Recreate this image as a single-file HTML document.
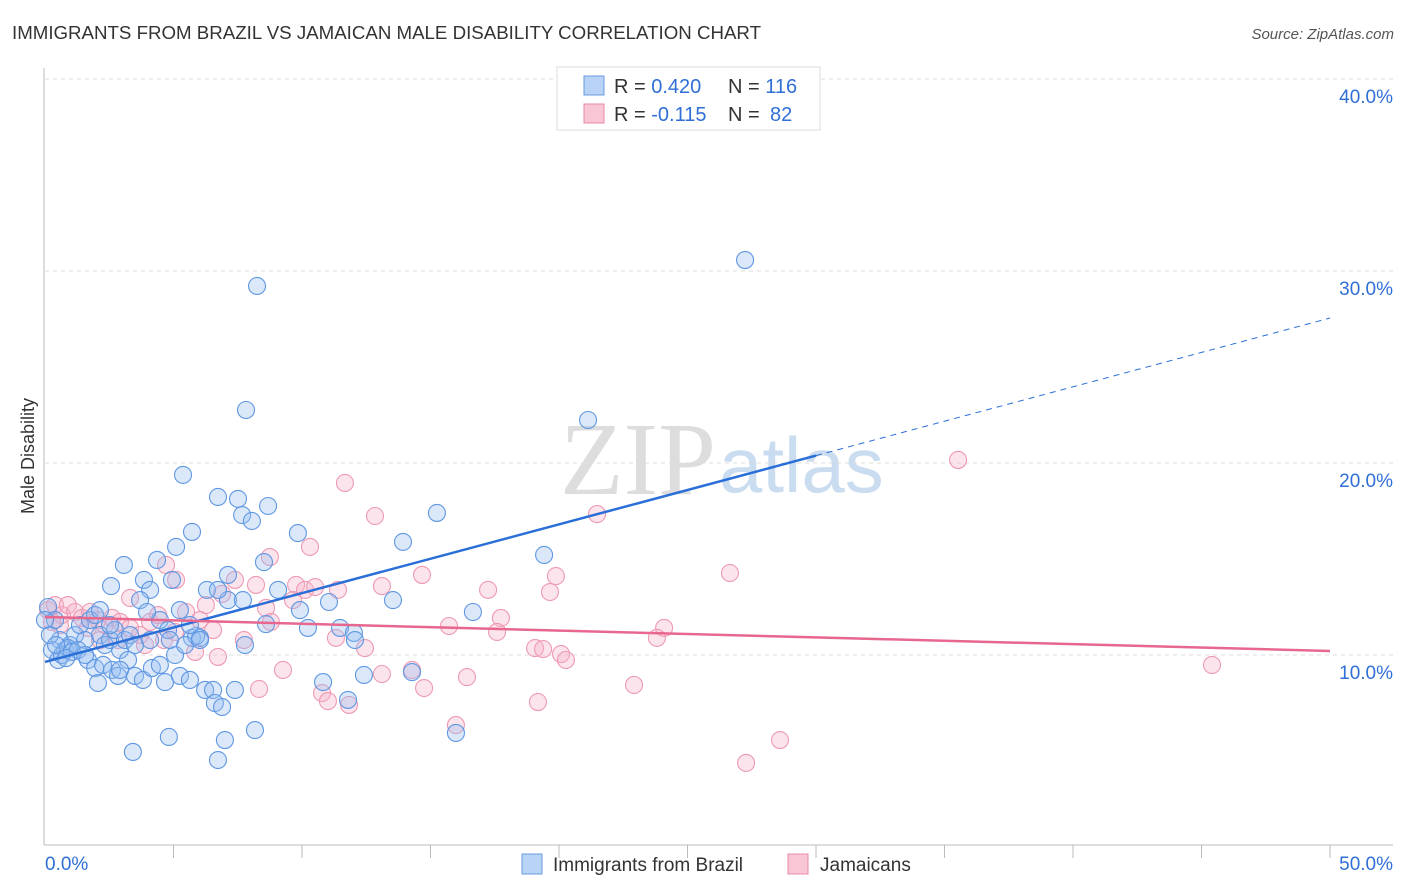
<!DOCTYPE html>
<html><head><meta charset="utf-8"><style>
body{margin:0;background:#fff;font-family:"Liberation Sans",sans-serif;}
#wrap{position:relative;width:1406px;height:892px;overflow:hidden}
</style></head><body>
<div id="wrap">
<svg id="svg" width="1406" height="892" xmlns="http://www.w3.org/2000/svg">
<text x="12" y="39" font-size="18.7" fill="#333">IMMIGRANTS FROM BRAZIL VS JAMAICAN MALE DISABILITY CORRELATION CHART</text>
<text x="1394" y="39" font-size="15" fill="#555" font-style="italic" text-anchor="end">Source: ZipAtlas.com</text>
<text x="716" y="494" font-size="104" fill="#ddd" font-family="Liberation Serif" text-anchor="end">ZIP</text>
<text x="719" y="492" font-size="78" fill="#c9dcf0">atlas</text>
<text transform="translate(34,456) rotate(-90)" font-size="18" fill="#333" text-anchor="middle">Male Disability</text>
<g id="grid"></g><g id="axes"></g><g id="pts"></g><g id="lines"></g>
<g>
<rect x="557" y="67" width="263" height="63" fill="#fff" stroke="#ddd"/>
<rect x="584" y="76" width="20" height="19" fill="#b8d3f5" stroke="#6a9be0"/>
<rect x="584" y="104" width="20" height="19" fill="#f9c6d5" stroke="#e88aa5"/>
<text x="614" y="93" font-size="20" fill="#333">R = <tspan fill="#2f6fd6">0.420</tspan><tspan x="728">N = </tspan><tspan fill="#2f6fd6">116</tspan></text>
<text x="614" y="121" font-size="20" fill="#333">R = <tspan fill="#2f6fd6">-0.115</tspan><tspan x="728">N = </tspan><tspan fill="#2f6fd6" x="770">82</tspan></text>
</g>
<g>
<rect x="522" y="854" width="20" height="20" fill="#b8d3f5" stroke="#6a9be0"/>
<text x="553" y="871" font-size="19" fill="#333">Immigrants from Brazil</text>
<rect x="788" y="854" width="20" height="20" fill="#f9c6d5" stroke="#e88aa5"/>
<text x="820" y="871" font-size="19" fill="#333">Jamaicans</text>
</g>
</svg></div>
<script>
const xTickLabels=["0.0%","50.0%"];
const yTicks=[10,20,30,40];
const yTickLabels=["10.0%","20.0%","30.0%","40.0%"];
const blueX=[27.24,8.25,7.82,21.13,5.37,6.73,7.51,8.68,7.67,8.05,15.25,9.84,5.72,13.93,4.36,19.42,3.07,5.10,8.52,2.57,3.85,4.94,6.30,7.12,9.07,9.92,13.54,16.65,11.05,11.48,12.02,8.60,10.23,5.72,6.03,7.78,4.09,3.70,4.47,5.25,0.12,0.39,0.58,0.78,0.97,1.17,1.36,1.56,1.75,1.95,2.14,2.33,2.53,2.72,2.92,3.11,3.31,3.50,0.27,0.51,0.66,0.89,1.05,1.28,1.67,1.95,2.26,2.61,2.84,3.23,3.50,3.81,4.16,4.47,4.67,5.06,5.25,5.64,6.23,6.54,6.61,6.89,7.39,8.17,7.00,6.73,4.82,3.42,2.06,10.82,11.79,12.41,14.28,15.99,7.12,6.73,5.88,5.45,4.79,4.09,0,0.19,0.43,0.82,1.56,2.92,2.14,3.97,6.03,7.70,12.06,2.53,4.86,5.64];
const blueY=[30.57,29.22,22.76,22.24,19.38,18.23,18.13,17.76,17.29,16.98,17.40,16.35,16.41,15.89,14.95,15.21,14.69,15.63,14.84,13.59,13.91,13.91,13.39,12.86,13.39,12.34,12.86,12.24,12.76,11.41,11.15,11.61,11.41,10.89,10.89,10.52,13.39,12.86,11.82,12.34,12.50,11.82,10.78,10.26,10.52,11.04,11.56,10.78,11.82,12.08,11.04,10.52,10.78,11.30,10.26,10.78,11.04,10.52,10.26,9.74,10.00,10.36,10.16,10.26,9.74,9.32,9.48,9.22,8.91,9.74,8.91,8.70,9.32,9.48,8.59,10.00,8.91,8.70,8.18,8.18,7.50,7.29,8.18,6.09,5.57,4.53,5.73,4.95,8.54,8.59,7.66,8.96,9.11,5.94,14.17,13.39,10.99,10.52,11.30,10.78,11.82,11.04,10.52,9.84,10.00,9.22,12.34,12.24,10.78,12.86,10.78,11.56,10.78,11.56];
const pinkX=[35.53,11.67,12.84,21.48,10.31,8.75,4.71,5.10,7.39,8.21,9.77,10.12,10.51,13.11,14.67,17.24,19.88,19.65,26.65,11.40,6.89,8.60,9.65,5.49,6.26,6.03,6.54,7.74,8.79,11.32,15.72,17.74,17.59,19.07,19.38,20.08,20.27,24.09,23.81,6.73,5.84,9.26,12.45,13.11,14.28,14.75,16.42,10.78,11.01,11.83,8.33,22.92,19.18,15.99,28.60,27.28,45.41,0.12,0.39,0.66,0.89,1.17,1.44,1.75,2.06,2.33,2.61,2.92,3.31,3.70,4.09,4.40,4.63,5.06,3.31,1.67,0.58,2.84,3.89,0.27,2.14];
const pinkY=[20.16,18.96,17.24,17.34,15.63,15.10,14.69,13.91,13.91,13.65,13.65,13.39,13.54,13.59,14.17,13.39,14.11,13.28,14.27,13.39,13.18,12.45,12.86,12.24,12.60,11.82,11.30,10.78,11.72,10.89,11.51,11.93,11.20,10.36,10.31,10.05,9.74,11.41,10.89,9.90,10.16,9.22,10.36,9.01,9.22,8.28,8.85,8.02,7.60,7.40,8.23,8.44,7.55,6.35,5.57,4.38,9.48,12.34,12.60,12.08,12.60,12.24,11.93,12.24,11.82,11.56,11.93,11.72,11.41,11.04,11.72,12.08,10.78,11.20,12.97,11.41,11.56,10.78,10.52,11.72,10.78];
const blueTrend=[9.64,27.55];
const blueSolidEnd=30;
const pinkTrend=[11.98,10.21];
const NS="http://www.w3.org/2000/svg";
const X=v=>45+v*25.7, Y=v=>847-v*19.2;
function mk(t,a,p){const e=document.createElementNS(NS,t);for(const k in a)e.setAttribute(k,a[k]);p.appendChild(e);return e;}
const grid=document.getElementById('grid'),axes=document.getElementById('axes'),pts=document.getElementById('pts'),lines=document.getElementById('lines');
yTicks.forEach((t,i)=>{
 const g=mk('line',{x1:45,x2:1393,y1:Y(t),y2:Y(t),stroke:'#ddd','stroke-dasharray':'4,4'},grid);
 
 
 const tx=mk('text',{x:1393,y:Y(t)+24,'font-size':19,fill:'#2f6fd6','text-anchor':'end'},axes);
 tx.textContent=yTickLabels[i];
 
 
});
const ax=mk('line',{x1:44,x2:44,y1:68,y2:845,stroke:'#bbb'},axes);


const bx=mk('line',{x1:44,x2:1393,y1:845,y2:845,stroke:'#bbb'},axes);


for(let i=1;i<=10;i++){const t=mk('line',{x1:X(i*5),x2:X(i*5),y1:845,y2:858,stroke:'#bbb'},axes);
 
 }
[[0,'start',45],[50,'end',1393]].forEach((d,i)=>{const t=mk('text',{x:d[2],y:870,'font-size':19,fill:'#2f6fd6','text-anchor':d[1]},axes);t.textContent=xTickLabels[i];
 
 });
function dots(xs,ys,fill,stroke,name){xs.forEach((x,i)=>{const c=mk('circle',{cx:X(x),cy:Y(ys[i]),r:8.5,fill:fill,stroke:stroke,'stroke-width':1.1},pts);
 
 });}
dots(pinkX,pinkY,'rgba(246,178,200,0.35)','#ee9ab4','jamaicans-point');
dots(blueX,blueY,'rgba(150,190,240,0.35)','#5f97e2','brazil-point');
const by=x=>blueTrend[0]+(blueTrend[1]-blueTrend[0])*x/50;
const l1=mk('line',{x1:X(0),y1:Y(by(0)),x2:X(blueSolidEnd),y2:Y(by(blueSolidEnd)),stroke:'#2a6fd8','stroke-width':2.5},lines);


const l2=mk('line',{x1:X(blueSolidEnd),y1:Y(by(blueSolidEnd)),x2:X(50),y2:Y(by(50)),stroke:'#2a6fd8','stroke-width':1,'stroke-dasharray':'6,5'},lines);


const l3=mk('line',{x1:X(0),y1:Y(pinkTrend[0]),x2:X(50),y2:Y(pinkTrend[1]),stroke:'#e8678f','stroke-width':2.5},lines);


</script>
</body></html>
